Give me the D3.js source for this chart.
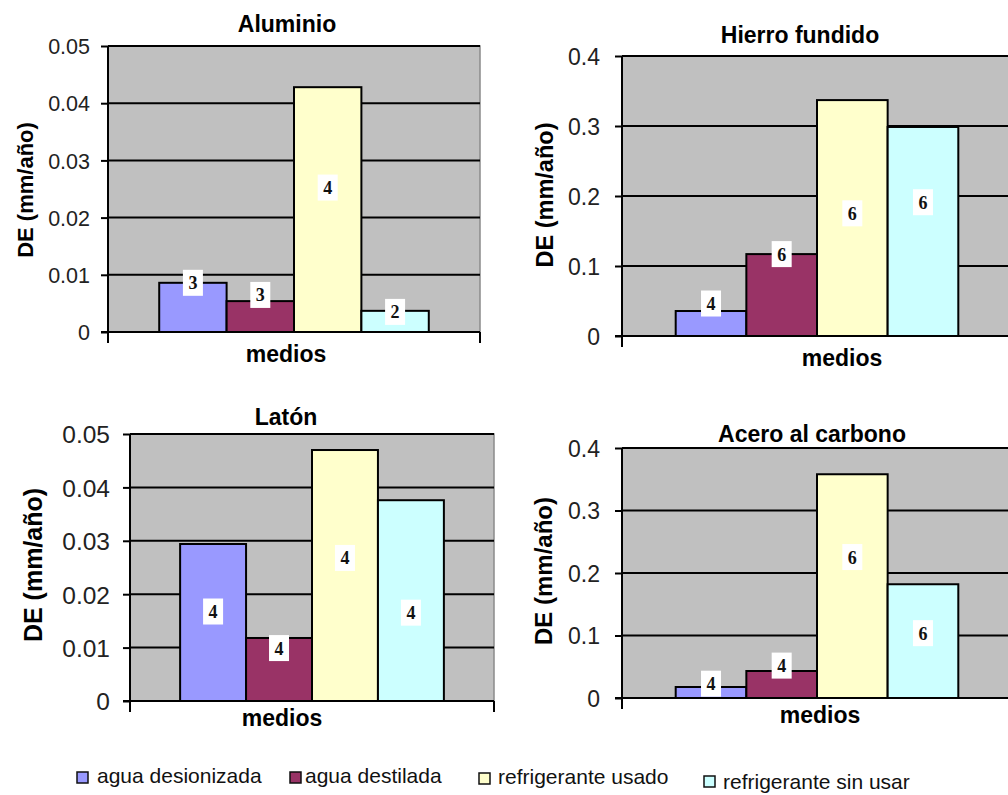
<!DOCTYPE html>
<html><head><meta charset="utf-8">
<script src="https://cdn.jsdelivr.net/npm/d3@7"></script>
<style>html,body{margin:0;padding:0;background:#fff;} svg{display:block;}</style>
</head><body>
<svg id="c" width="1008" height="795"></svg>
<script>
// ---- data ----
const series = ["agua desionizada", "agua destilada", "refrigerante usado", "refrigerante sin usar"];
const titles = ["Aluminio", "Hierro fundido", "Latón", "Acero al carbono"];
const aluminio = [0.0086, 0.0054, 0.0428, 0.0037];
const hierro   = [0.0357, 0.117, 0.337, 0.2986];
const laton    = [0.0294, 0.0118, 0.0470, 0.0376];
const acero    = [0.0176, 0.0432, 0.358, 0.182];
const nAluminio = [3, 3, 4, 2];
const nHierro   = [4, 6, 6, 6];
const nLaton    = [4, 4, 4, 4];
const nAcero    = [4, 4, 6, 6];
const ticksSmall = [0, 0.01, 0.02, 0.03, 0.04, 0.05];
const ticksLarge = [0, 0.1, 0.2, 0.3, 0.4];
const xTitle = "medios";
const yTitle = "DE (mm/año)";

// ---- style / layout ----
const colors = ["#9999FF", "#993366", "#FFFFCC", "#CCFFFF"];
const FONT = "'Liberation Sans', Arial, sans-serif";
const panels = [
  {title: titles[0], values: aluminio, n: nAluminio, ticks: ticksSmall, dec: 2,
   left: 108, right: 480, top: 46, bottom: 332, titleX: 287, titleY: 32,
   tickFont: 21.5, tickX: 90, ylabFont: 22, ylabX: 33, ylabY: 190, medX: 286, medY: 362,
   labelFrac: [1.0, 1.2, 0.59, 0.95]},
  {title: titles[1], values: hierro, n: nHierro, ticks: ticksLarge, dec: 1,
   left: 622, right: 1012, top: 56, bottom: 336, titleX: 800, titleY: 43,
   tickFont: 23, tickX: 600, ylabFont: 23.5, ylabX: 553, ylabY: 195, medX: 842, medY: 366,
   labelFrac: [1.3, 1.0, 0.52, 0.64]},
  {title: titles[2], values: laton, n: nLaton, ticks: ticksSmall, dec: 2,
   left: 130, right: 494, top: 434, bottom: 701, titleX: 286, titleY: 425,
   tickFont: 24.5, tickX: 110, ylabFont: 25, ylabX: 42, ylabY: 565, medX: 282, medY: 726,
   labelFrac: [0.57, 0.84, 0.57, 0.44]},
  {title: titles[3], values: acero, n: nAcero, ticks: ticksLarge, dec: 1,
   left: 622, right: 1012, top: 448, bottom: 698, titleX: 812, titleY: 442,
   tickFont: 23, tickX: 600, ylabFont: 24, ylabX: 552, ylabY: 571, medX: 820, medY: 723,
   labelFrac: [1.3, 1.2, 0.63, 0.57]}
];
const legendLayout = [
  {sx: 77, sy: 772, tx: 97, ty: 783},
  {sx: 290, sy: 772, tx: 305, ty: 783},
  {sx: 479, sy: 773, tx: 498, ty: 784},
  {sx: 704, sy: 776, tx: 723, ty: 789}
];

const svg = d3.select("#c");

panels.forEach(p => {
  const g = svg.append("g");
  const y = d3.scaleLinear().domain([0, d3.max(p.ticks)]).range([p.bottom, p.top]);
  const x = d3.scaleBand().domain(series).range([p.left, p.right]).paddingInner(0).paddingOuter(0.76);

  g.append("rect").attr("x", p.left).attr("y", p.top)
    .attr("width", p.right - p.left).attr("height", p.bottom - p.top)
    .attr("fill", "#C0C0C0");
  g.append("path").attr("d", `M${p.left},${p.top}H${p.right}V${p.bottom}`)
    .attr("fill", "none").attr("stroke", "#8a8a8a").attr("stroke-width", 1.5);

  g.append("g").selectAll("line").data(p.ticks.filter(t => t > 0)).join("line")
    .attr("x1", p.left).attr("x2", p.right)
    .attr("y1", d => y(d)).attr("y2", d => y(d))
    .attr("stroke", "#000").attr("stroke-width", 2);

  g.append("g").selectAll("rect").data(p.values).join("rect")
    .attr("x", (d, i) => x(series[i]))
    .attr("y", d => y(d))
    .attr("width", x.bandwidth())
    .attr("height", d => p.bottom - y(d))
    .attr("fill", (d, i) => colors[i])
    .attr("stroke", "#000").attr("stroke-width", 2);

  const ax = d3.axisLeft(y).tickValues(p.ticks).tickSize(7).tickSizeOuter(0)
    .tickFormat(d => d === 0 ? "0" : d.toFixed(p.dec));
  const axg = g.append("g").attr("transform", `translate(${p.left},0)`).call(ax);
  axg.select(".domain").remove();
  axg.selectAll(".tick line").attr("stroke", "#000").attr("stroke-width", 2);
  axg.selectAll(".tick text").attr("x", p.tickX - p.left).attr("dy", "0.36em")
    .attr("font-family", FONT).attr("font-size", p.tickFont).attr("fill", "#222");

  g.append("line").attr("x1", p.left).attr("x2", p.left).attr("y1", p.top).attr("y2", p.bottom + 11)
    .attr("stroke", "#000").attr("stroke-width", 2);
  g.append("line").attr("x1", p.left - 7).attr("x2", p.right).attr("y1", p.bottom).attr("y2", p.bottom)
    .attr("stroke", "#000").attr("stroke-width", 2);
  g.append("line").attr("x1", p.right).attr("x2", p.right).attr("y1", p.bottom).attr("y2", p.bottom + 11)
    .attr("stroke", "#000").attr("stroke-width", 2);

  const lab = g.append("g").selectAll("g").data(p.n).join("g")
    .attr("transform", (d, i) => {
      const cx = x(series[i]) + x.bandwidth() / 2;
      const cy = p.bottom - (p.bottom - y(p.values[i])) * p.labelFrac[i];
      return `translate(${cx},${cy})`;
    });
  lab.append("rect").attr("x", -10).attr("y", -13).attr("width", 20).attr("height", 26).attr("fill", "#fff");
  lab.append("text").text(d => d).attr("text-anchor", "middle").attr("dy", "0.36em")
    .attr("font-family", "'Liberation Serif', 'Times New Roman', serif").attr("font-weight", "bold")
    .attr("font-size", 18).attr("fill", "#111");

  g.append("text").text(p.title).attr("x", p.titleX).attr("y", p.titleY).attr("text-anchor", "middle")
    .attr("font-family", FONT).attr("font-weight", "bold").attr("font-size", 23).attr("fill", "#000");
  g.append("text").text(xTitle).attr("x", p.medX).attr("y", p.medY).attr("text-anchor", "middle")
    .attr("font-family", FONT).attr("font-weight", "bold").attr("font-size", 23).attr("fill", "#000");
  g.append("text").text(yTitle).attr("transform", `translate(${p.ylabX},${p.ylabY}) rotate(-90)`)
    .attr("text-anchor", "middle")
    .attr("font-family", FONT).attr("font-weight", "bold").attr("font-size", p.ylabFont).attr("fill", "#000");
});

const lg = svg.append("g").selectAll("g").data(series).join("g");
lg.append("rect").attr("x", (d, i) => legendLayout[i].sx).attr("y", (d, i) => legendLayout[i].sy)
  .attr("width", 11).attr("height", 11).attr("fill", (d, i) => colors[i])
  .attr("stroke", "#111").attr("stroke-width", 1.5);
lg.append("text").text(d => d).attr("x", (d, i) => legendLayout[i].tx).attr("y", (d, i) => legendLayout[i].ty)
  .attr("font-family", FONT).attr("font-size", 21).attr("fill", "#111");
</script>
</body></html>
